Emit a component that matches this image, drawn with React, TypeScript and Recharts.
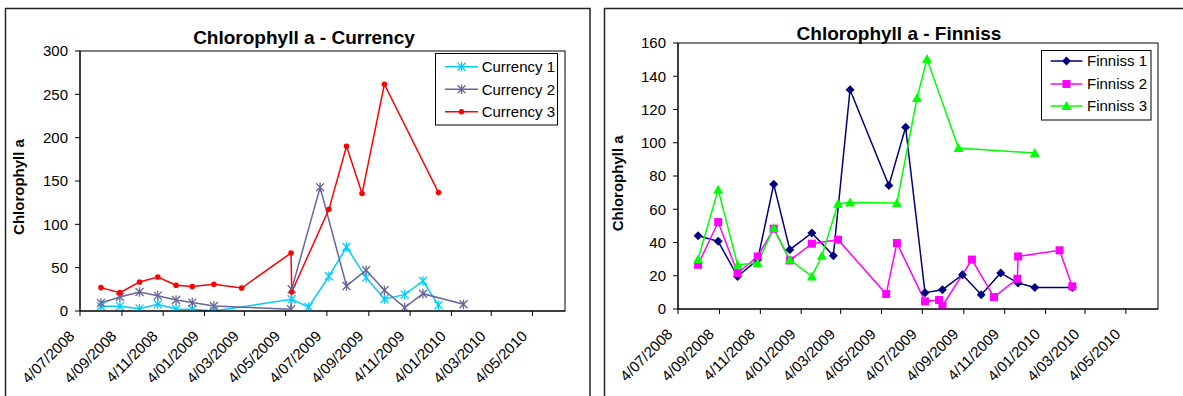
import React from 'react';
import { LineChart, Line, XAxis, YAxis } from 'recharts';

const FONT = '"Liberation Sans", Arial, Helvetica, sans-serif';

// ---- date axis (shared by both panels) ----
const AXIS_START = '2008-07-04';
const AXIS_END = '2010-06-21';
const axisTickDates = [
  '2008-07-04', '2008-09-04', '2008-11-04', '2009-01-04', '2009-03-04', '2009-05-04',
  '2009-07-04', '2009-09-04', '2009-11-04', '2010-01-04', '2010-03-04', '2010-05-04',
];
const axisTickLabels = [
  '4/07/2008', '4/09/2008', '4/11/2008', '4/01/2009', '4/03/2009', '4/05/2009',
  '4/07/2009', '4/09/2009', '4/11/2009', '4/01/2010', '4/03/2010', '4/05/2010',
];

// ---- Currency site ----
const currency1Dates = [
  '2008-08-04', '2008-09-01', '2008-09-30', '2008-10-27', '2008-11-23', '2008-12-17', '2009-01-18',
  '2009-05-13', '2009-06-07', '2009-07-07', '2009-08-02', '2009-08-31', '2009-09-27', '2009-10-27',
  '2009-11-23', '2009-12-16',
];
const currency1Values = [5.4, 5.6, 2.7, 7.7, 2.3, 2, 0, 13.5, 4.6, 40, 73.8, 38.5, 13.8, 18.9, 34.6, 6.6];

const currency2Dates = [
  '2008-08-04', '2008-09-01', '2008-09-30', '2008-10-27', '2008-11-23', '2008-12-17', '2009-01-18',
  '2009-05-12', '2009-05-13', '2009-06-24', '2009-08-02', '2009-08-31', '2009-09-27', '2009-10-27',
  '2009-11-23', '2010-01-22',
];
const currency2Values = [9.2, 16.2, 21.9, 17.7, 12.7, 9.7, 5.8, 2, 25, 142.7, 28.9, 47, 23.9, 3.9, 20, 7.7];

const currency3Dates = [
  '2008-08-04', '2008-09-01', '2008-09-30', '2008-10-27', '2008-11-23', '2008-12-17', '2009-01-18',
  '2009-02-28', '2009-05-12', '2009-05-13', '2009-07-07', '2009-08-02', '2009-08-25', '2009-09-27',
  '2009-12-16',
];
const currency3Values = [27, 21.2, 33.5, 39.2, 29.7, 28.2, 30.8, 26.5, 66.9, 21.9, 117.3, 190, 135.5, 261.6, 136.6];

// ---- Finniss site ----
const finniss1Dates = [
  '2008-08-03', '2008-09-02', '2008-10-01', '2008-10-31', '2008-11-24', '2008-12-18', '2009-01-20',
  '2009-02-21', '2009-03-18', '2009-05-15', '2009-06-09', '2009-07-08', '2009-08-03', '2009-09-02',
  '2009-09-30', '2009-10-29', '2009-11-24', '2009-12-19', '2010-02-13',
];
const finniss1Values = [44.1, 40.7, 19.6, 29.6, 75, 35.7, 45.7, 32.1, 131.9, 74.3, 109.3, 9.8, 11.6, 20.6, 8.6, 21.7, 15.6, 13, 13];

const finniss2Dates = [
  '2008-08-03', '2008-09-02', '2008-10-01', '2008-10-31', '2008-11-24', '2008-12-18', '2009-01-20',
  '2009-02-28', '2009-05-11', '2009-05-27', '2009-07-08', '2009-07-29', '2009-08-03', '2009-09-16',
  '2009-10-19', '2009-11-23', '2009-11-24', '2010-01-25', '2010-02-13',
];
const finniss2Values = [26.6, 52.3, 21.6, 31.6, 48.3, 29.2, 39.3, 41.7, 9, 39.7, 4.6, 5.4, 1.8, 29.7, 7.2, 18.2, 31.6, 35.3, 13.6];

const finniss3Dates = [
  '2008-08-03', '2008-09-02', '2008-10-01', '2008-10-31', '2008-11-24', '2008-12-18', '2009-01-20',
  '2009-02-04', '2009-02-28', '2009-03-18', '2009-05-27', '2009-06-26', '2009-07-11', '2009-08-27',
  '2009-12-19',
];
const finniss3Values = [30, 71.8, 26.6, 27.6, 48.7, 29.6, 19.6, 32, 63.3, 64.1, 63.8, 126.9, 150.4, 96.8, 93.8];

const currencyTicks = [0, 50, 100, 150, 200, 250, 300];
const finnissTicks = [0, 20, 40, 60, 80, 100, 120, 140, 160];

// ---- helpers ----
const DAY_MS = 86400000;
const toDay = (iso: string) => Math.round((Date.parse(iso) - Date.parse(AXIS_START)) / DAY_MS);
const tickDays = axisTickDates.map(toDay);
const endDay = toDay(AXIS_END);
const rows = (dates: string[], values: number[]) => dates.map((d, i) => ({ d: toDay(d), v: values[i] }));

type Kind = 'star' | 'circle' | 'diamond' | 'square' | 'triangle';

function Marker({ kind, color, x, y }: { kind: Kind; color: string; x: number; y: number }) {
  switch (kind) {
    case 'star':
      return (
        <g stroke={color} strokeWidth={1.3} fill="none">
          <line x1={x - 4} y1={y - 4} x2={x + 4} y2={y + 4} />
          <line x1={x - 4} y1={y + 4} x2={x + 4} y2={y - 4} />
          <line x1={x} y1={y - 4.8} x2={x} y2={y + 4.8} />
        </g>
      );
    case 'circle':
      return <circle cx={x} cy={y} r={2.8} fill={color} />;
    case 'diamond':
      return <path d={`M${x},${y - 4.5}L${x + 4.5},${y}L${x},${y + 4.5}L${x - 4.5},${y}Z`} fill={color} />;
    case 'square':
      return <rect x={x - 4} y={y - 4} width={8} height={8} fill={color} />;
    case 'triangle':
      return <path d={`M${x},${y - 5}L${x + 5},${y + 4}L${x - 5},${y + 4}Z`} fill={color} />;
  }
  return null;
}

const dotRenderer = (kind: Kind, color: string) => (props: any) => {
  const { cx, cy, index } = props;
  if (cx == null || cy == null) return <g key={`e-${index}`} />;
  return (
    <g key={`m-${index}`}>
      <Marker kind={kind} color={color} x={cx} y={cy} />
    </g>
  );
};

const XDateTick = (props: any) => {
  const { x, y, payload } = props;
  const i = tickDays.indexOf(payload.value);
  const px = x - 4.5;
  const py = y + 21;
  return (
    <text
      x={px}
      y={py}
      transform={`rotate(-45 ${px} ${py})`}
      textAnchor="end"
      fontSize={15}
      fontFamily={FONT}
      fill="#000"
    >
      {i >= 0 ? axisTickLabels[i] : ''}
    </text>
  );
};

type Series = { name: string; color: string; kind: Kind; data: { d: number; v: number }[] };

const currencySeries: Series[] = [
  { name: 'Currency 1', color: '#00CCFF', kind: 'star', data: rows(currency1Dates, currency1Values) },
  { name: 'Currency 2', color: '#666699', kind: 'star', data: rows(currency2Dates, currency2Values) },
  { name: 'Currency 3', color: '#FF0000', kind: 'circle', data: rows(currency3Dates, currency3Values) },
];
const finnissSeries: Series[] = [
  { name: 'Finniss 1', color: '#000080', kind: 'diamond', data: rows(finniss1Dates, finniss1Values) },
  { name: 'Finniss 2', color: '#FF00FF', kind: 'square', data: rows(finniss2Dates, finniss2Values) },
  { name: 'Finniss 3', color: '#00FF00', kind: 'triangle', data: rows(finniss3Dates, finniss3Values) },
];

type PanelLayout = {
  left: number; width: number; height: number;
  margin: { top: number; right: number; bottom: number; left: number };
  yAxisWidth: number; xAxisHeight: number;
};

const leftPanel: PanelLayout = {
  left: 0, width: 600, height: 396,
  margin: { top: 51, right: 35, bottom: 0, left: 0 },
  yAxisWidth: 80, xAxisHeight: 85,
};
const rightPanel: PanelLayout = {
  left: 595, width: 588, height: 396,
  margin: { top: 43, right: 25, bottom: 0, left: 0 },
  yAxisWidth: 83, xAxisHeight: 87,
};

function Panel({ layout, series, ticks }: { layout: PanelLayout; series: Series[]; ticks: number[] }) {
  return (
    <div style={{ position: 'absolute', left: layout.left, top: 0 }}>
      <LineChart width={layout.width} height={layout.height} margin={layout.margin}>
        <XAxis
          type="number"
          dataKey="d"
          domain={[0, endDay]}
          ticks={tickDays}
          interval={0}
          allowDataOverflow
          height={layout.xAxisHeight}
          tickSize={5}
          tickMargin={0}
          axisLine={{ stroke: '#000', strokeWidth: 1 }}
          tickLine={{ stroke: '#000', strokeWidth: 1 }}
          tick={<XDateTick />}
        />
        <YAxis
          type="number"
          dataKey="v"
          domain={[0, ticks[ticks.length - 1]]}
          ticks={ticks}
          interval={0}
          allowDataOverflow
          width={layout.yAxisWidth}
          tickSize={5}
          tickMargin={7}
          axisLine={{ stroke: '#000', strokeWidth: 1 }}
          tickLine={{ stroke: '#000', strokeWidth: 1 }}
          tick={{ fill: '#000', fontSize: 15, fontFamily: FONT }}
        />
        {series.map((s) => (
          <Line
            key={s.name}
            data={s.data}
            dataKey="v"
            name={s.name}
            type="linear"
            stroke={s.color}
            strokeWidth={1.5}
            dot={dotRenderer(s.kind, s.color)}
            activeDot={false}
            isAnimationActive={false}
          />
        ))}
      </LineChart>
    </div>
  );
}

function plotRect(l: PanelLayout) {
  const x = l.left + l.margin.left + l.yAxisWidth;
  const y = l.margin.top;
  const w = l.width - l.margin.right - l.margin.left - l.yAxisWidth;
  const h = l.height - l.margin.bottom - l.xAxisHeight - l.margin.top;
  return { x, y, w, h };
}

function LegendBox({ x, y, w, h, rowY, lineX, textX, series }: {
  x: number; y: number; w: number; h: number; rowY: number[]; lineX: [number, number]; textX: number; series: Series[];
}) {
  return (
    <g>
      <rect x={x} y={y} width={w} height={h} fill="#fff" stroke="#000" strokeWidth={1} />
      {series.map((s, i) => (
        <g key={s.name}>
          <line x1={lineX[0]} y1={rowY[i]} x2={lineX[1]} y2={rowY[i]} stroke={s.color} strokeWidth={1.5} />
          <Marker kind={s.kind} color={s.color} x={(lineX[0] + lineX[1]) / 2} y={rowY[i]} />
          <text x={textX} y={rowY[i] + 5.4} fontSize={15} fontFamily={FONT} fill="#000">{s.name}</text>
        </g>
      ))}
    </g>
  );
}

export default function App() {
  const lp = plotRect(leftPanel);
  const rp = plotRect(rightPanel);
  return (
    <div style={{ position: 'absolute', left: 0, top: 0, width: 1183, height: 396, background: '#fff', overflow: 'hidden' }}>
      <Panel layout={leftPanel} series={currencySeries} ticks={currencyTicks} />
      <Panel layout={rightPanel} series={finnissSeries} ticks={finnissTicks} />
      <svg width={1183} height={396} style={{ position: 'absolute', left: 0, top: 0, pointerEvents: 'none' }}>
        {/* chart frames */}
        <rect x={5.5} y={8.5} width={584.5} height={400} fill="none" stroke="#222" strokeWidth={1.5} />
        <rect x={604.5} y={8.5} width={600} height={400} fill="none" stroke="#222" strokeWidth={1.5} />
        {/* plot area borders */}
        <rect x={lp.x} y={lp.y} width={lp.w} height={lp.h} fill="none" stroke="#000" strokeWidth={1} />
        <rect x={rp.x} y={rp.y} width={rp.w} height={rp.h} fill="none" stroke="#000" strokeWidth={1} />
        {/* titles */}
        <text x={304} y={43.5} textAnchor="middle" fontSize={19} fontWeight="bold" fontFamily={FONT} fill="#000">
          Chlorophyll a - Currency
        </text>
        <text x={899} y={40.3} textAnchor="middle" fontSize={19} fontWeight="bold" fontFamily={FONT} fill="#000">
          Chlorophyll a - Finniss
        </text>
        {/* y axis titles */}
        <text x={0} y={0} transform="translate(23.5 187) rotate(-90)" textAnchor="middle" fontSize={15} fontWeight="bold" fontFamily={FONT} fill="#000">
          Chlorophyll a
        </text>
        <text x={0} y={0} transform="translate(622.5 183.3) rotate(-90)" textAnchor="middle" fontSize={15} fontWeight="bold" fontFamily={FONT} fill="#000">
          Chlorophyll a
        </text>
        {/* legends */}
        <LegendBox x={435.5} y={53.5} w={122} h={71.5} rowY={[66.7, 89.3, 111.7]} lineX={[445, 478]} textX={481.7} series={currencySeries} />
        <LegendBox x={1041.5} y={50.5} w={109.5} h={69.5} rowY={[61, 84, 106]} lineX={[1050.6, 1082.4]} textX={1087} series={finnissSeries} />
      </svg>
    </div>
  );
}
